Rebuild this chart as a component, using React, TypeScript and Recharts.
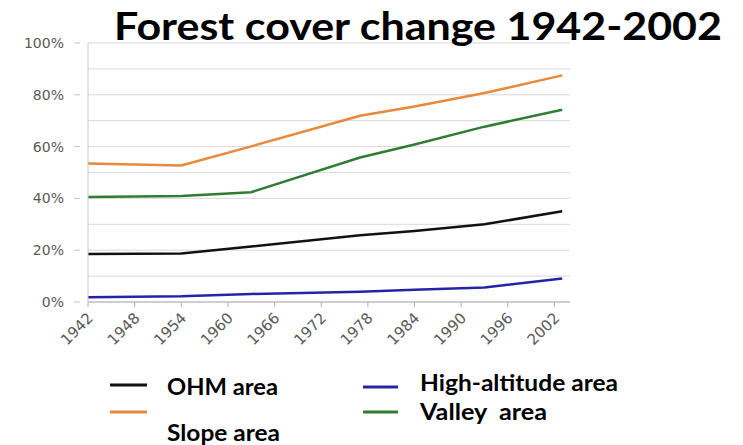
import { LineChart, Line, XAxis, YAxis, CartesianGrid } from "recharts";

// years where the curves bend
const years = [1942, 1954, 1963, 1977, 1984, 1993, 2003];
const ohm = [18.5, 18.7, 21.4, 25.8, 27.4, 30.0, 35.0];
const slope = [53.5, 52.7, 60.1, 71.9, 75.5, 80.7, 87.5];
const highAltitude = [1.8, 2.2, 3.1, 4.0, 4.7, 5.6, 9.1];
const valley = [40.5, 40.9, 42.4, 55.8, 60.8, 67.7, 74.2];

const xTicks = [1942, 1948, 1954, 1960, 1966, 1972, 1978, 1984, 1990, 1996, 2002];
const yTicks = [0, 10, 20, 30, 40, 50, 60, 70, 80, 90, 100];

const series = [
  { key: "ohm", name: "OHM area", color: "#111111" },
  { key: "slope", name: "Slope area", color: "#e8883a" },
  { key: "high", name: "High-altitude area", color: "#2424a8" },
  { key: "valley", name: "Valley  area", color: "#2e7d32" },
];

const data = years.map((year, i) => ({
  year,
  ohm: ohm[i],
  slope: slope[i],
  high: highAltitude[i],
  valley: valley[i],
}));

const tickFont = "'DejaVu Sans', sans-serif";
const boldFont = "Lato, 'Open Sans', sans-serif";

// only every other gridline gets a label and a tick stub
// eslint-disable-next-line @typescript-eslint/no-explicit-any
const YTick = (props: any) => {
  const { x, y, payload } = props;
  if (payload.value % 20 !== 0) return null;
  return (
    <g>
      <line x1={x - 6} x2={x} y1={y} y2={y} stroke="#c8c8c8" />
      <text x={x - 16} y={y} dy={5} textAnchor="end" fill="#595959" fontSize={14} fontFamily={tickFont}>
        {payload.value}%
      </text>
    </g>
  );
};

// eslint-disable-next-line @typescript-eslint/no-explicit-any
const XTick = (props: any) => {
  const { x, y, payload } = props;
  return (
    <text
      x={x + 6}
      y={y + 10}
      textAnchor="end"
      fill="#595959"
      fontSize={15}
      fontFamily={tickFont}
      transform={`rotate(-45, ${x + 6}, ${y + 10})`}
    >
      {payload.value}
    </text>
  );
};

// legend laid out like the original: two columns, labels a bit off the swatches
const legendLayout: Record<string, { lx: number; ly: number; lw: number; tx: number; ty: number; tw: number }> = {
  ohm: { lx: 110, ly: 385, lw: 37, tx: 167, ty: 395, tw: 111 },
  slope: { lx: 110, ly: 412, lw: 37, tx: 167, ty: 441, tw: 113 },
  high: { lx: 363, ly: 387, lw: 35, tx: 420, ty: 391, tw: 198 },
  valley: { lx: 363, ly: 412, lw: 35, tx: 420, ty: 419.5, tw: 127 },
};

const Overlay = () => (
  <svg width={743} height={445} style={{ position: "absolute", left: 0, top: 0, pointerEvents: "none" }}>
    <text
      x={114}
      y={40}
      fontSize={39}
      fontWeight={700}
      fontFamily={boldFont}
      fill="#000"
      textLength={608}
      lengthAdjust="spacingAndGlyphs"
    >
      Forest cover change 1942-2002
    </text>
    {series.map((s) => {
      const p = legendLayout[s.key];
      return (
        <g key={s.key}>
          <line x1={p.lx} x2={p.lx + p.lw} y1={p.ly} y2={p.ly} stroke={s.color} strokeWidth={3} />
          <text
            x={p.tx}
            y={p.ty}
            fontSize={23}
            fontWeight={700}
            fontFamily={boldFont}
            fill="#000"
            textLength={p.tw}
            lengthAdjust="spacingAndGlyphs"
            style={{ whiteSpace: "pre" }}
          >
            {s.name}
          </text>
        </g>
      );
    })}
  </svg>
);

export default function App() {
  return (
    <div style={{ position: "relative", width: 743, height: 445, background: "#fff" }}>
      <style>{`body{margin:0}`}</style>
      <LineChart
        width={743}
        height={445}
        data={data}
        margin={{ top: 43, right: 173, left: 87, bottom: 142 }}
      >
        <CartesianGrid horizontal vertical={false} stroke="#d9d9d9" />
        <XAxis
          dataKey="year"
          type="number"
          domain={[1942, 2004]}
          ticks={xTicks}
          height={1}
          interval={0}
          stroke="#b0b0b0"
          tickSize={5}
          tick={<XTick />}
        />
        <YAxis
          type="number"
          domain={[0, 100]}
          ticks={yTicks}
          width={1}
          interval={0}
          stroke="#c8c8c8"
          tickLine={false}
          tick={<YTick />}
        />
        {series.map((s) => (
          <Line
            key={s.key}
            type="linear"
            dataKey={s.key}
            name={s.name}
            stroke={s.color}
            strokeWidth={2.5}
            dot={false}
            isAnimationActive={false}
          />
        ))}
      </LineChart>
      <Overlay />
    </div>
  );
}
